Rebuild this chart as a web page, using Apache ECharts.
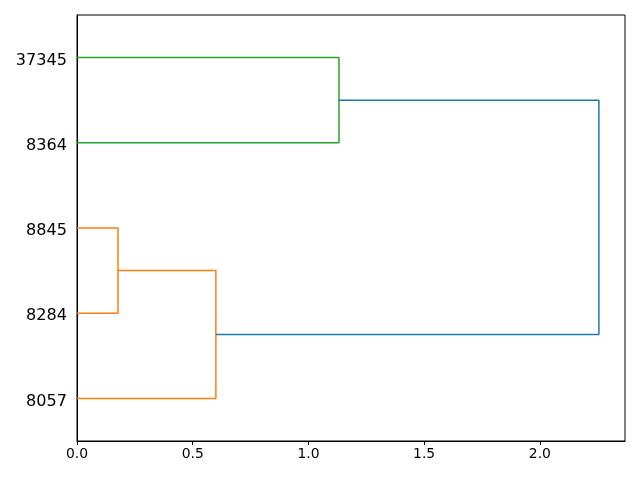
<!DOCTYPE html>
<html><head><meta charset="utf-8">
<script src="https://cdn.jsdelivr.net/npm/echarts@6/dist/echarts.min.js"></script>
<style>html,body{margin:0;padding:0;background:#fff}#c{width:640px;height:480px}</style>
</head><body><div id="c"></div>
<script>
// leaf labels, bottom to top
const leafLabels = ['8057', '8284', '8845', '8364', '37345'];
// link leaf-axis coordinates (like scipy icoord)
const linkPos = [
  [15, 15, 25, 25],
  [5, 5, 20, 20],
  [35, 35, 45, 45],
  [12.5, 12.5, 40, 40]
];
// link distances (like scipy dcoord)
const linkDist = [
  [0, 0.177, 0.177, 0],
  [0, 0.600, 0.600, 0.177],
  [0, 1.132, 1.132, 0],
  [0.600, 2.255, 2.255, 1.132]
];
const linkColors = ['#ff7f0e', '#ff7f0e', '#2ca02c', '#1f77b4'];
const xTicks = [0, 0.5, 1.0, 1.5, 2.0];
const xMax = 2.255 * 1.05;

const series = linkPos.map((pos, k) => ({
  type: 'line',
  xAxisIndex: 0,
  yAxisIndex: 0,
  data: pos.map((p, j) => [linkDist[k][j], p]),
  symbol: 'none',
  lineStyle: { color: linkColors[k], width: 1.5 },
  animation: false,
  silent: true
}));

const chart = echarts.init(document.getElementById('c'));
chart.setOption({
  animation: false,
  grid: { left: 77, right: 15, top: 15, bottom: 39, show: true, borderColor: '#000', borderWidth: 1, backgroundColor: 'transparent' },
  xAxis: [{
    type: 'value', min: 0, max: xMax, interval: 0.5,
    axisLine: { show: true, lineStyle: { color: '#000', width: 1 } },
    axisTick: { show: true, length: 4, lineStyle: { color: '#000' } },
    splitLine: { show: false },
    axisLabel: { color: '#000', fontFamily: 'DejaVu Sans', fontSize: 13.9, margin: 6, showMaxLabel: false,
      formatter: v => xTicks.some(t => Math.abs(t - v) < 1e-9) ? v.toFixed(1) : '' }
  }],
  yAxis: [{
    type: 'value', min: 0, max: 50, show: false, splitLine: { show: false }
  }, {
    type: 'category', data: leafLabels, boundaryGap: true, position: 'left',
    axisLine: { show: true, lineStyle: { color: '#000', width: 1 } },
    axisTick: { show: false },
    splitLine: { show: false },
    axisLabel: { color: '#000', fontFamily: 'DejaVu Sans', fontSize: 16.1, margin: 10, verticalAlign: 'top', lineHeight: 6 }
  }],
  series: series
});
</script></body></html>
